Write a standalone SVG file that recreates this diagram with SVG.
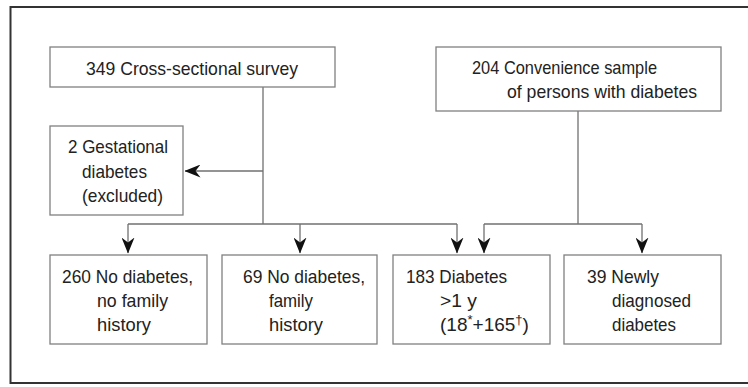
<svg xmlns="http://www.w3.org/2000/svg" width="748" height="387" viewBox="0 0 748 387">
<style>
.box{fill:#fff;stroke:#808080;stroke-width:1.3}
.ln{fill:none;stroke:#707070;stroke-width:1.3}
text{font-family:"Liberation Sans",Arial,sans-serif;font-size:19px;fill:#222}
.sup{font-size:13px}
</style>
<defs>
<marker id="ah" viewBox="0 0 16 13" refX="15.5" refY="6.5" markerWidth="16" markerHeight="13" markerUnits="userSpaceOnUse" orient="auto">
<path d="M0,0 L16,6.5 L0,13 L5,6.5 Z" fill="#111"/>
</marker>
</defs>
<rect x="0" y="0" width="748" height="387" fill="#fff"/>
<path d="M750,7 H10.5 V383 H750" fill="none" stroke="#333" stroke-width="2"/>
<g id="connectors">
<path class="ln" d="M263,87 V224"/>
<path class="ln" d="M263,171 H185" marker-end="url(#ah)"/>
<path class="ln" d="M128,224 H457"/>
<path class="ln" d="M128,224 V253" marker-end="url(#ah)"/>
<path class="ln" d="M300,224 V253" marker-end="url(#ah)"/>
<path class="ln" d="M457,224 V253" marker-end="url(#ah)"/>
<path class="ln" d="M578,111 V224"/>
<path class="ln" d="M484,224 H642"/>
<path class="ln" d="M484,224 V253" marker-end="url(#ah)"/>
<path class="ln" d="M642,224 V253" marker-end="url(#ah)"/>
</g>
<g id="survey">
<rect class="box" x="50" y="47" width="285" height="40"/>
<text x="86" y="75" textLength="212" lengthAdjust="spacingAndGlyphs">349 Cross-sectional survey</text>
</g>
<g id="convenience">
<rect class="box" x="436" y="47" width="285" height="64"/>
<text x="472" y="74" textLength="185" lengthAdjust="spacingAndGlyphs">204 Convenience sample</text>
<text x="507" y="98" textLength="190" lengthAdjust="spacingAndGlyphs">of persons with diabetes</text>
</g>
<g id="gestational">
<rect class="box" x="50" y="126" width="133" height="89"/>
<text x="68" y="153" textLength="100" lengthAdjust="spacingAndGlyphs">2 Gestational</text>
<text x="82" y="178" textLength="65" lengthAdjust="spacingAndGlyphs">diabetes</text>
<text x="82" y="202" textLength="81" lengthAdjust="spacingAndGlyphs">(excluded)</text>
</g>
<g id="nodiab-nofam">
<rect class="box" x="50" y="255" width="157" height="89"/>
<text x="62" y="283" textLength="131" lengthAdjust="spacingAndGlyphs">260 No diabetes,</text>
<text x="97" y="307" textLength="71" lengthAdjust="spacingAndGlyphs">no family</text>
<text x="97" y="331" textLength="54" lengthAdjust="spacingAndGlyphs">history</text>
</g>
<g id="nodiab-fam">
<rect class="box" x="222" y="255" width="155" height="89"/>
<text x="243" y="283" textLength="122" lengthAdjust="spacingAndGlyphs">69 No diabetes,</text>
<text x="269" y="307" textLength="44" lengthAdjust="spacingAndGlyphs">family</text>
<text x="269" y="331" textLength="54" lengthAdjust="spacingAndGlyphs">history</text>
</g>
<g id="diab">
<rect class="box" x="393" y="255" width="157" height="89"/>
<text x="406" y="283" textLength="101" lengthAdjust="spacingAndGlyphs">183 Diabetes</text>
<text x="440" y="307" textLength="37" lengthAdjust="spacingAndGlyphs">&gt;1 y</text>
<text x="440" y="331">(18<tspan class="sup" dy="-7">*</tspan><tspan dy="7">+165</tspan><tspan class="sup" dy="-7">†</tspan><tspan dy="7">)</tspan></text>
</g>
<g id="newly">
<rect class="box" x="564" y="255" width="157" height="89"/>
<text x="587" y="283" textLength="72" lengthAdjust="spacingAndGlyphs">39 Newly</text>
<text x="612" y="307" textLength="79" lengthAdjust="spacingAndGlyphs">diagnosed</text>
<text x="612" y="331" textLength="64" lengthAdjust="spacingAndGlyphs">diabetes</text>
</g>
</svg>
